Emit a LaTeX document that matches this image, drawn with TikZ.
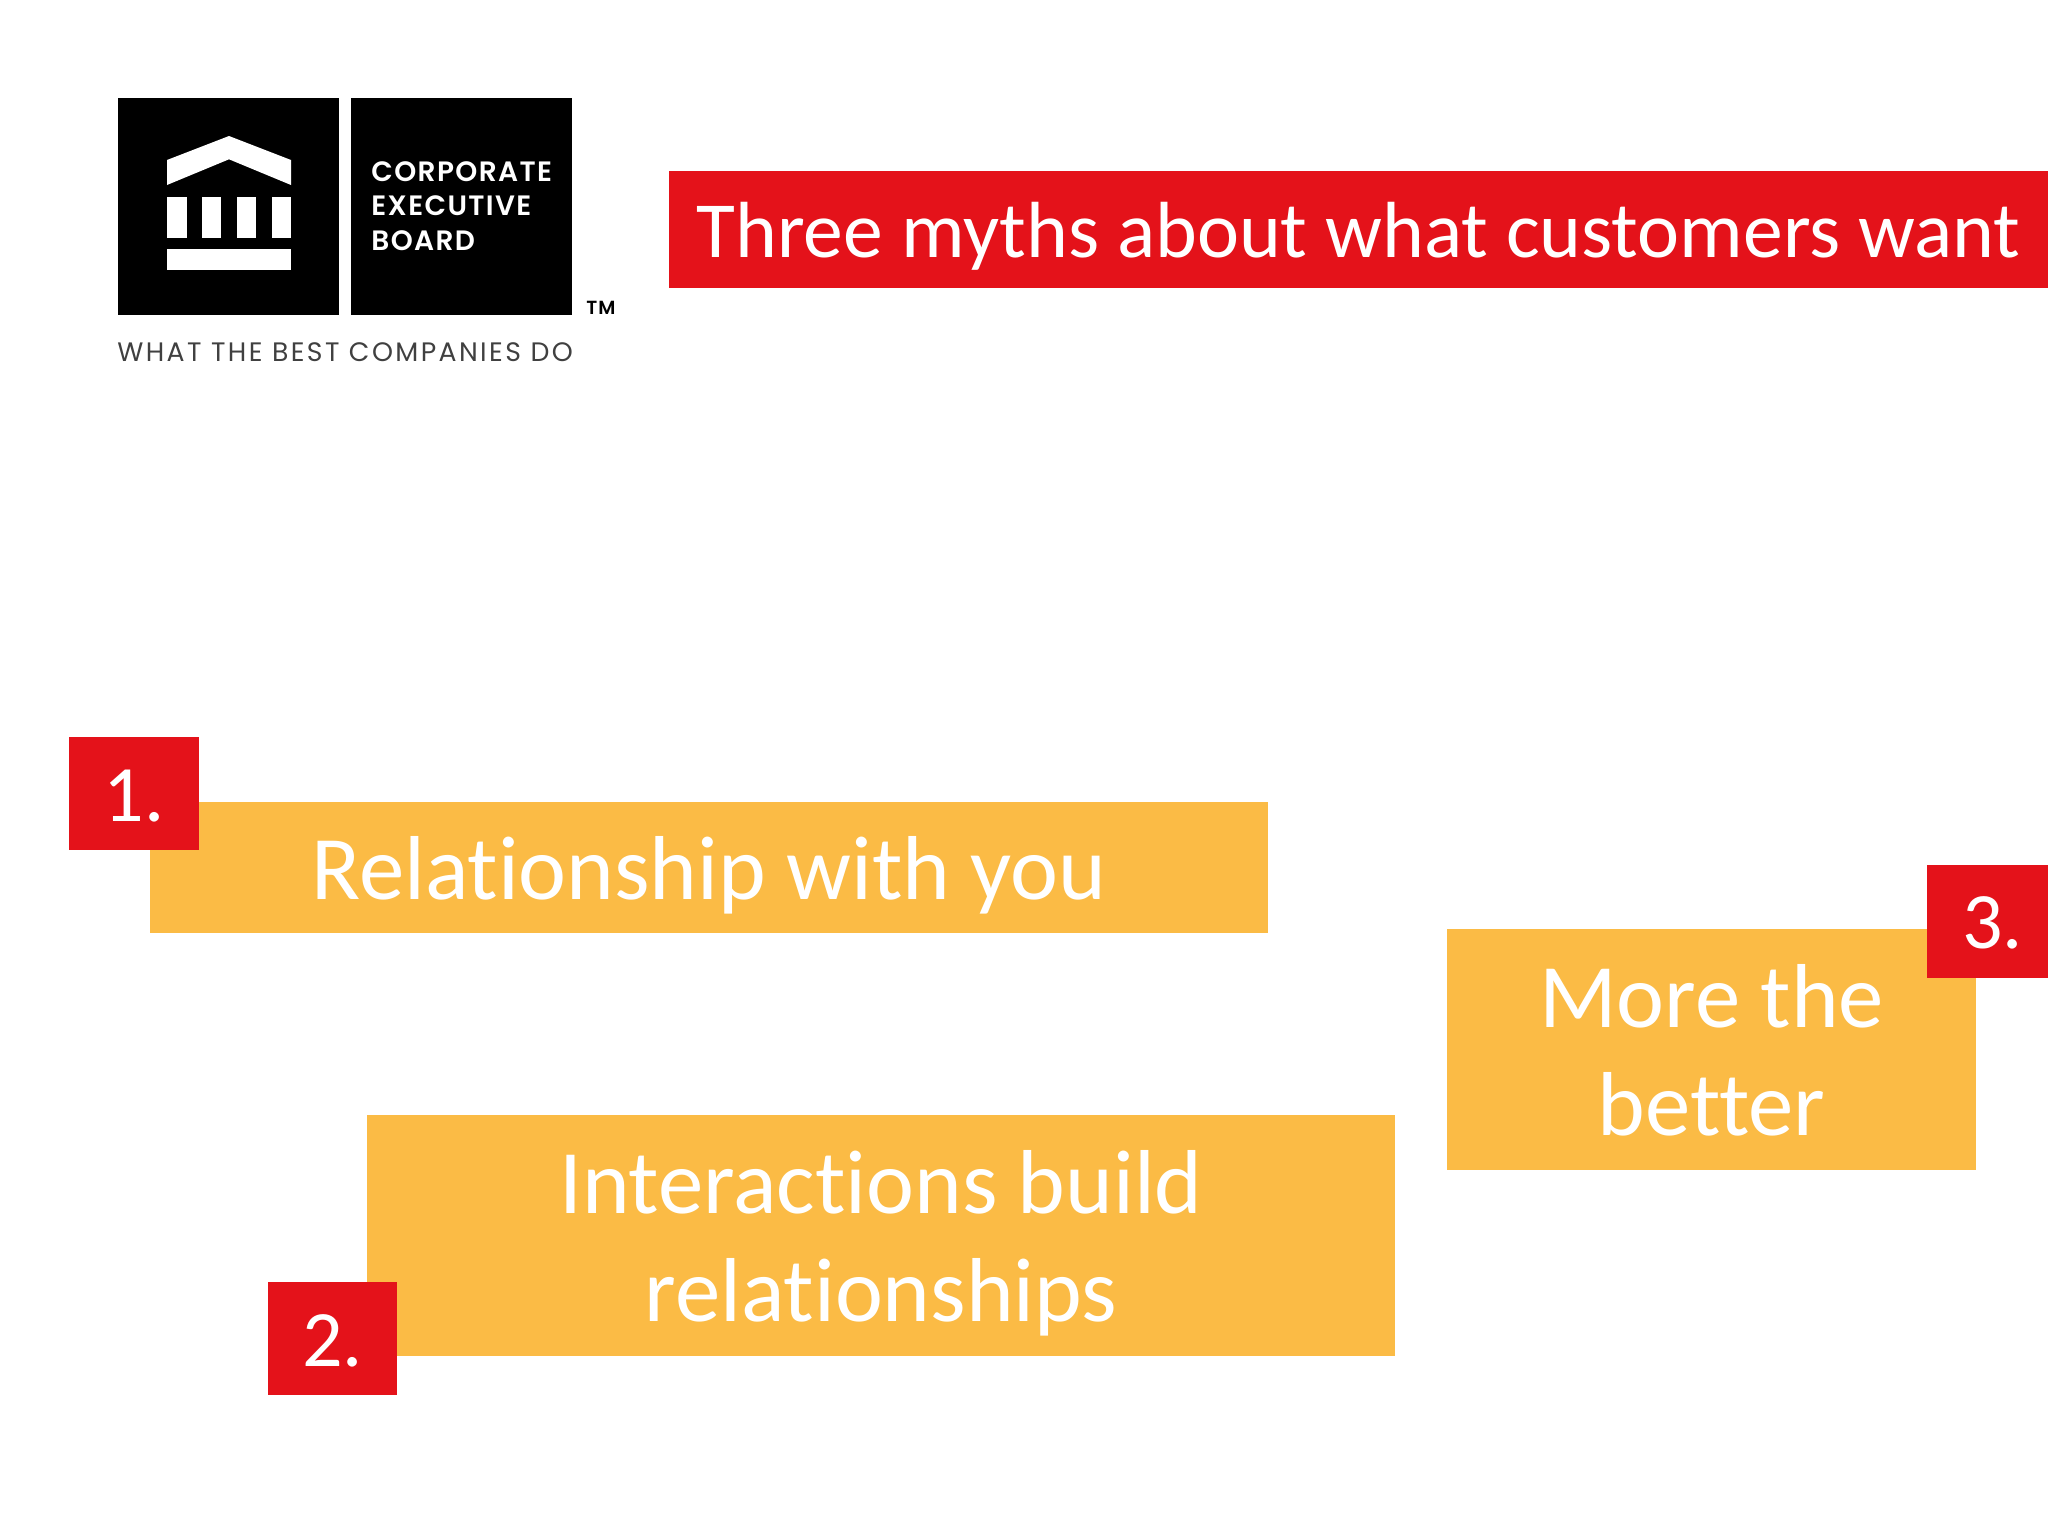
\documentclass[tikz,border=0pt]{standalone}
\usepackage{fontspec}
\setmainfont[Ligatures=NoCommon]{Carlito}
\newfontfamily\logofont[LetterSpace=5]{Poppins SemiBold}
\newfontfamily\tagfont[LetterSpace=9]{Poppins}
\definecolor{mythred}{HTML}{E4121A}
\definecolor{mythorange}{HTML}{FBBB45}
\def\logotop{98}
\def\logobot{315}

\begin{document}
\begin{tikzpicture}[
    x=0.5pt, y=-0.5pt,
    bar/.style={
      fill=mythred, text=white, inner sep=0pt, text depth=0pt,
      font=\fontsize{39.8}{48}\selectfont
    },
    myth/.style={
      fill=mythorange, text=white, inner sep=0pt, align=center, text depth=0pt,
      font=\fontsize{45.4}{54}\selectfont
    },
    num/.style={
      fill=mythred, text=white, inner sep=0pt,
      minimum width=50pt, minimum height=56.5pt,
      font=\fontsize{40}{48}\selectfont
    },
    logotext/.style={
      text=white, inner sep=0pt, anchor=west,
      font=\logofont\fontsize{14}{16}\selectfont
    }
  ]
    \useasboundingbox (0,0) rectangle (2048,1536);

    \fill[black] (118,\logotop) rectangle (339,\logobot);
    \fill[black] (351,\logotop) rectangle (572,\logobot);

    \fill[white] (229,136) -- (291,160) -- (291,185) -- (229,159.3) -- (167,185) -- (167,160) -- cycle;
    \fill[white] (167,196.7) rectangle ++(19.5,41);
    \fill[white] (201.5,196.7) rectangle ++(19.5,41);
    \fill[white] (236.5,196.7) rectangle ++(19.5,41);
    \fill[white] (271.5,196.7) rectangle ++(19.5,41);
    \fill[white] (167,249.3) rectangle (291,270);

    \node[logotext] (corporate) at (371,172) {CORPORATE};
    \node[logotext] (executive) at (371,206) {EXECUTIVE};
    \node[logotext] (board) at (371,241) {BOARD};
    \node[inner sep=0pt, anchor=west, font=\logofont\fontsize{9.5}{11}\selectfont] (tm) at (586,308) {TM};
    \node[inner sep=0pt, anchor=west, text=black!75, font=\tagfont\fontsize{13.35}{16}\selectfont] (tagline) at (117,352) {WHAT THE BEST COMPANIES DO};

    \node[bar, minimum width=689.5pt, minimum height=58.5pt] (title) at (1358.5,229.5) {Three myths about what customers want};

    \node[myth, minimum width=559pt, minimum height=65.5pt] (relationship) at (709,867.5) {Relationship with you};
    \node[myth, minimum width=514pt, minimum height=120.5pt] (interactions) at (881,1235.5) {Interactions build\\relationships};
    \node[myth, minimum width=264.5pt, minimum height=120.5pt] (better) at (1711.5,1049.5) {More the\\better};

    \node[num, minimum width=65pt] (one) at (134,793.5) {\raisebox{-1.3pt}[\height][\depth]{1.}};
    \node[num, minimum width=64.5pt] (two) at (332.5,1338.5) {\raisebox{-1.3pt}[\height][\depth]{2.}};
    \node[num, minimum width=60.5pt] (three) at (1987.5,921.5) {\hspace*{5pt}\raisebox{-0.5pt}[\height][\depth]{3.}};
  \end{tikzpicture}
\end{document}
